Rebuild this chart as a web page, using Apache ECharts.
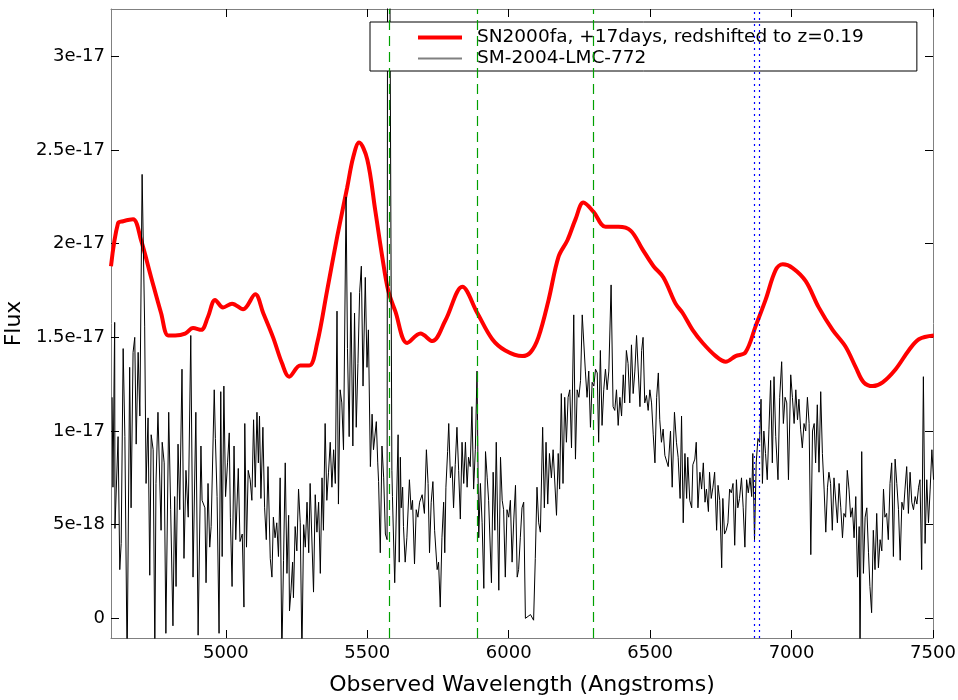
<!DOCTYPE html>
<html lang="en">
<head>
<meta charset="utf-8" />
<title>SN2000fa vs SM-2004-LMC-772</title>
<script src="https://cdn.jsdelivr.net/npm/echarts@6/dist/echarts.min.js"></script>
<style>
html, body { margin: 0; padding: 0; background: #fff; }
#chart { width: 958px; height: 700px; }
</style>
</head>
<body>
<div id="chart"></div>
<script type="text/javascript">
// flux values are in units of 1e-18
var xTicks = [5000, 5500, 6000, 6500, 7000, 7500];
var yTicks = [0, 5, 10, 15, 20, 25, 30];
var yTickLabels = ['0', '5e-18', '1e-17', '1.5e-17', '2e-17', '2.5e-17', '3e-17'];
var skyLines = [5577, 5890, 6300];
var telluricLines = [6867, 6884];
var redName = 'SN2000fa, +17days, redshifted to z=0.19';
var smName = 'SM-2004-LMC-772';

var redWave = [4594,4619,4637,4672,4700,4736,4771,4796,4821,4856,4884,4913,4937,4962,4990,5022,5061,5104,5132,5167,
  5199,5224,5263,5295,5323,5358,5394,5429,5450,5471,5500,5528,5553,5574,5599,5641,5688,5730,5776,5836,
  5889,5942,5988,6048,6077,6105,6141,6176,6208,6236,6264,6300,6342,6388,6431,6473,6512,6547,6590,6615,
  6650,6686,6732,6767,6802,6837,6873,6908,6944,6969,7004,7050,7096,7145,7191,7227,7255,7287,7322,7368,
  7414,7450,7503];
var redFlux = [18.8,21.1,21.2,21.3,20.2,18.2,16.3,15.1,15.1,15.2,15.5,15.4,16.1,17.0,16.6,16.8,16.5,17.3,16.3,15.0,
  13.6,12.9,13.5,13.5,14.7,17.5,20.4,23.0,24.6,25.4,24.5,21.8,19.3,17.5,16.4,14.7,15.2,14.8,15.9,17.7,
  16.3,14.9,14.3,14.0,14.2,15.0,17.0,19.3,20.2,21.3,22.2,21.7,20.9,20.9,20.7,19.7,18.8,18.2,16.8,16.3,
  15.4,14.7,14.0,13.7,14.0,14.2,15.6,17.0,18.6,18.9,18.7,18.0,16.6,15.4,14.5,13.4,12.6,12.4,12.6,13.3,
  14.3,14.9,15.1];

var smWave = [4598,4601,4607,4608,4619,4625,4630,4637,4643,4651,4660,4665,4672,4678,4683,4690,4696,4704,4713,4718,
  4725,4731,4736,4743,4749,4753,4760,4766,4771,4775,4782,4788,4798,4805,4813,4819,4824,4831,4837,4845,
  4852,4859,4867,4876,4884,4894,4902,4912,4916,4926,4930,4937,4943,4948,4959,4963,4969,4976,4982,4987,
  4993,4999,5006,5012,5016,5022,5029,5035,5044,5050,5058,5064,5067,5073,5079,5086,5092,5098,5104,5110,
  5115,5119,5124,5131,5137,5143,5149,5157,5163,5168,5174,5180,5186,5192,5198,5204,5210,5216,5222,5225,
  5230,5236,5239,5245,5251,5257,5263,5269,5275,5281,5287,5293,5298,5304,5310,5316,5322,5328,5334,5340,
  5345,5351,5357,5363,5369,5375,5381,5387,5393,5398,5404,5410,5416,5425,5430,5436,5442,5449,5455,5461,
  5467,5473,5479,5485,5493,5499,5504,5511,5517,5522,5532,5537,5540,5546,5552,5558,5564,5570,5573,5577,
  5587,5589,5597,5603,5609,5613,5617,5620,5625,5628,5634,5640,5649,5655,5660,5667,5673,5679,5685,5694,
  5702,5709,5715,5720,5726,5732,5738,5747,5752,5758,5764,5770,5774,5778,5784,5788,5794,5800,5805,5811,
  5817,5823,5829,5835,5841,5847,5853,5858,5864,5870,5876,5882,5888,5894,5900,5906,5912,5918,5924,5929,
  5939,5945,5951,5956,5965,5971,5977,5982,5988,5994,6000,6006,6012,6018,6024,6030,6035,6041,6047,6053,
  6059,6077,6088,6094,6100,6106,6112,6120,6126,6132,6138,6144,6151,6157,6163,6169,6175,6180,6186,6192,
  6198,6204,6210,6216,6222,6230,6236,6242,6248,6254,6260,6265,6271,6277,6283,6289,6295,6301,6307,6313,
  6318,6324,6330,6336,6342,6348,6354,6362,6369,6375,6381,6387,6393,6399,6405,6410,6416,6422,6428,6434,
  6440,6446,6452,6458,6464,6470,6475,6481,6487,6493,6499,6505,6511,6517,6523,6529,6534,6540,6546,6552,
  6558,6564,6572,6578,6586,6593,6599,6606,6611,6617,6623,6629,6633,6640,6647,6651,6658,6663,6669,6676,
  6682,6688,6694,6699,6706,6710,6716,6722,6728,6735,6740,6746,6753,6757,6763,6769,6775,6781,6787,6793,
  6799,6805,6810,6816,6823,6829,6835,6841,6847,6853,6859,6863,6869,6875,6881,6887,6892,6897,6902,6908,
  6914,6920,6926,6932,6938,6944,6952,6958,6965,6971,6977,6983,6989,6997,7003,7009,7015,7021,7026,7032,
  7038,7044,7050,7056,7062,7068,7074,7080,7085,7091,7097,7103,7109,7115,7121,7127,7132,7138,7144,7150,
  7156,7162,7168,7174,7180,7185,7191,7197,7203,7209,7215,7221,7227,7233,7239,7242,7248,7254,7260,7266,
  7272,7277,7283,7289,7295,7301,7307,7313,7319,7325,7330,7336,7342,7348,7354,7360,7366,7372,7378,7384,
  7390,7396,7401,7407,7413,7419,7425,7431,7437,7443,7449,7454,7460,7466,7472,7478,7484,7490,7496,7502];
var smFlux = [11.8,7.0,15.8,4.8,9.7,2.6,4.0,14.4,9.7,-2.5,13.4,5.9,14.2,15.0,9.3,14.2,10.8,23.7,15.6,7.2,
  10.7,2.3,9.8,9.0,-2.0,7.2,11.0,11.0,4.7,9.4,8.3,-0.8,11.0,5.8,-0.4,6.5,1.7,9.3,5.8,13.3,
  3.2,7.9,5.4,15.1,2.2,11.0,-0.9,9.2,6.3,5.9,1.9,7.2,3.8,4.9,12.2,9.6,6.5,-0.8,12.1,3.3,
  12.4,6.5,8.3,9.9,5.4,1.7,9.2,4.2,8.0,4.1,4.5,0.6,10.4,3.8,7.9,7.4,6.3,10.6,7.0,11.0,
  8.3,10.8,6.4,10.2,5.9,4.2,8.1,3.2,2.2,5.4,4.3,5.1,3.3,7.5,-2.0,3.1,8.3,2.4,5.5,0.4,
  1.4,3.0,1.1,4.9,3.6,6.9,5.1,-2.0,5.0,3.8,6.2,3.5,7.2,7.3,1.4,6.6,4.6,6.2,2.4,7.5,
  4.7,10.4,6.3,7.8,9.4,7.0,9.0,7.2,16.4,6.1,12.2,11.5,9.0,22.5,14.4,9.7,17.4,9.2,16.3,10.2,
  13.6,17.4,18.8,12.4,18.2,13.4,15.4,8.1,10.9,9.0,10.5,8.3,7.3,3.5,9.2,7.5,4.5,4.2,60,60,
  7.9,6.5,1.9,2.0,9.8,3.0,8.6,5.9,7.0,4.9,3.0,4.3,7.4,5.8,6.3,2.9,5.8,5.4,6.2,6.6,
  5.6,9.0,7.2,3.5,6.2,7.3,4.7,2.6,3.0,0.6,4.3,6.2,3.5,7.0,8.9,10.4,7.5,8.1,5.9,8.2,
  10.2,7.9,5.3,9.4,7.2,9.4,7.0,8.6,8.1,11.3,6.9,9.0,13.2,4.3,7.2,5.1,1.6,8.9,7.5,6.3,
  1.9,7.8,4.7,9.4,1.5,8.6,6.3,5.8,2.2,5.8,5.4,6.3,3.0,5.3,7.1,2.2,2.6,4.3,5.9,6.2,
  0.0,0.2,-0.1,3.2,7.0,5.1,4.6,10.2,5.9,9.4,6.1,8.8,7.5,9.0,8.9,5.5,8.8,6.9,12.0,7.2,
  11.8,9.4,11.8,12.2,9.1,16.2,8.5,12.2,11.8,12.7,16.2,16.3,13.2,11.8,13.2,10.2,12.6,12.4,13.3,13.1,
  9.4,14.3,10.3,12.2,13.3,12.2,13.2,17.8,11.3,11.1,12.2,10.3,11.8,10.8,13.0,11.5,14.3,13.6,11.5,14.6,
  12.0,13.2,15.1,15.2,11.3,14.3,15.0,11.5,11.9,11.1,12.2,11.5,9.8,8.3,11.8,13.1,10.6,9.4,10.1,8.7,
  8.7,8.1,10.0,7.0,11.0,9.4,8.6,6.4,10.8,5.1,8.8,6.4,8.6,6.3,5.9,8.2,8.5,9.4,5.9,7.8,
  6.9,8.3,6.2,6.9,5.7,7.8,6.4,7.0,7.8,4.7,7.1,6.3,2.7,6.4,4.5,4.7,5.1,6.9,6.7,7.2,
  3.9,7.4,5.9,6.4,7.5,5.9,3.8,7.4,6.7,7.5,6.5,8.8,4.2,8.3,9.6,9.4,11.7,7.2,10.0,8.8,
  7.4,10.1,12.7,8.3,12.9,9.7,7.4,11.8,13.7,10.4,11.8,11.5,7.4,13.0,11.8,10.4,12.2,10.6,11.7,10.1,
  9.1,10.4,10.0,11.8,10.4,3.4,10.0,10.4,8.3,11.4,7.8,12.1,8.8,6.9,4.6,7.0,7.8,7.2,4.7,7.5,
  7.5,5.1,7.2,5.9,4.3,5.6,5.4,7.9,6.9,5.4,5.9,4.3,6.5,2.2,4.9,-2.0,8.9,2.4,5.4,5.9,
  3.5,1.7,0.3,4.7,2.6,5.6,2.7,4.2,3.6,6.9,5.4,5.6,4.2,7.2,8.3,3.3,8.5,7.2,5.8,3.1,
  6.2,5.8,6.9,8.1,5.6,7.8,6.2,5.8,6.5,6.1,7.0,7.4,2.6,12.9,4.0,7.4,5.1,6.9,9.0,7.4];

function zip(xs, ys) {
  var out = [];
  for (var i = 0; i < Math.min(xs.length, ys.length); i++) out.push([xs[i], ys[i]]);
  return out;
}

var FONT = 'DejaVu Sans';
var xMin = 4594, xMax = 7500, yMin = -1.05, yMax = 32.53;

function frameAxis(pos, isX, withLabels) {
  var ticks = isX ? xTicks : yTicks;
  var ax = {
    type: 'value',
    position: pos,
    min: isX ? xMin : yMin,
    max: isX ? xMax : yMax,
    splitLine: { show: false },
    axisLine: { onZero: false, lineStyle: { color: '#808080', width: 1 } },
    axisTick: { inside: true, length: 8, customValues: ticks, lineStyle: { color: '#000', width: 1 } },
    axisLabel: { show: withLabels, customValues: ticks, color: '#000', fontFamily: FONT, fontSize: 18, margin: 6 }
  };
  if (withLabels) {
    ax.axisLabel.formatter = isX
      ? function (v) { return String(v); }
      : function (v) { return yTickLabels[yTicks.indexOf(v)]; };
  }
  return ax;
}

var xBottom = frameAxis('bottom', true, true);
xBottom.name = 'Observed Wavelength (Angstroms)';
xBottom.nameLocation = 'middle';
xBottom.nameGap = 36;
xBottom.nameTextStyle = { color: '#000', fontFamily: FONT, fontSize: 22 };
var yLeft = frameAxis('left', false, true);
yLeft.name = 'Flux';
yLeft.nameLocation = 'middle';
yLeft.nameGap = 73;
yLeft.nameTextStyle = { color: '#000', fontFamily: FONT, fontSize: 22 };

// vertical reference lines: night-sky lines (green dashed), telluric A band (blue dotted)
var vlines = [];
skyLines.forEach(function (w) {
  vlines.push({ xAxis: w, lineStyle: { color: '#00a000', width: 1.2, type: [10, 6], opacity: 1 } });
});
telluricLines.forEach(function (w) {
  vlines.push({ xAxis: w, lineStyle: { color: '#0000ff', width: 1.2, type: [2, 4], opacity: 1 } });
});

var chart = echarts.init(document.getElementById('chart'));
chart.setOption({
  backgroundColor: '#fff',
  animation: false,
  grid: { left: 111, right: 25, top: 9, bottom: 62, containLabel: false, outerBoundsMode: 'none' },
  xAxis: [xBottom, frameAxis('top', true, false)],
  yAxis: [yLeft, frameAxis('right', false, false)],
  legend: {
    left: 370,
    top: 22,
    orient: 'vertical',
    padding: [5, 53, 2, 48],
    itemGap: 0,
    itemWidth: 44,
    itemHeight: 14,
    backgroundColor: '#fff',
    borderColor: '#000',
    borderWidth: 1,
    borderRadius: 0,
    selectedMode: false,
    textStyle: { color: '#000', fontFamily: FONT, fontSize: 18.5, lineHeight: 18, padding: [3, 0, 0, 10] },
    data: [
      { name: redName, icon: 'path://M0,0h44v4h-44z', itemStyle: { color: '#ff0000' } },
      { name: smName, icon: 'path://M0,0h44v2h-44z', itemStyle: { color: '#808080' } }
    ]
  },
  series: [
    {
      name: redName,
      type: 'line',
      data: zip(redWave, redFlux),
      smooth: 0.35,
      symbol: 'none',
      lineStyle: { color: '#ff0000', width: 4 },
      itemStyle: { color: '#ff0000' },
      z: 2
    },
    {
      name: smName,
      type: 'line',
      data: zip(smWave, smFlux),
      symbol: 'none',
      lineStyle: { color: '#000', width: 1 },
      itemStyle: { color: '#000' },
      z: 3
    },
    {
      name: 'lines',
      type: 'line',
      data: [],
      symbol: 'none',
      z: 4,
      markLine: {
        silent: true,
        symbol: ['none', 'none'],
        label: { show: false },
        data: vlines
      }
    }
  ]
});
</script>
</body>
</html>
